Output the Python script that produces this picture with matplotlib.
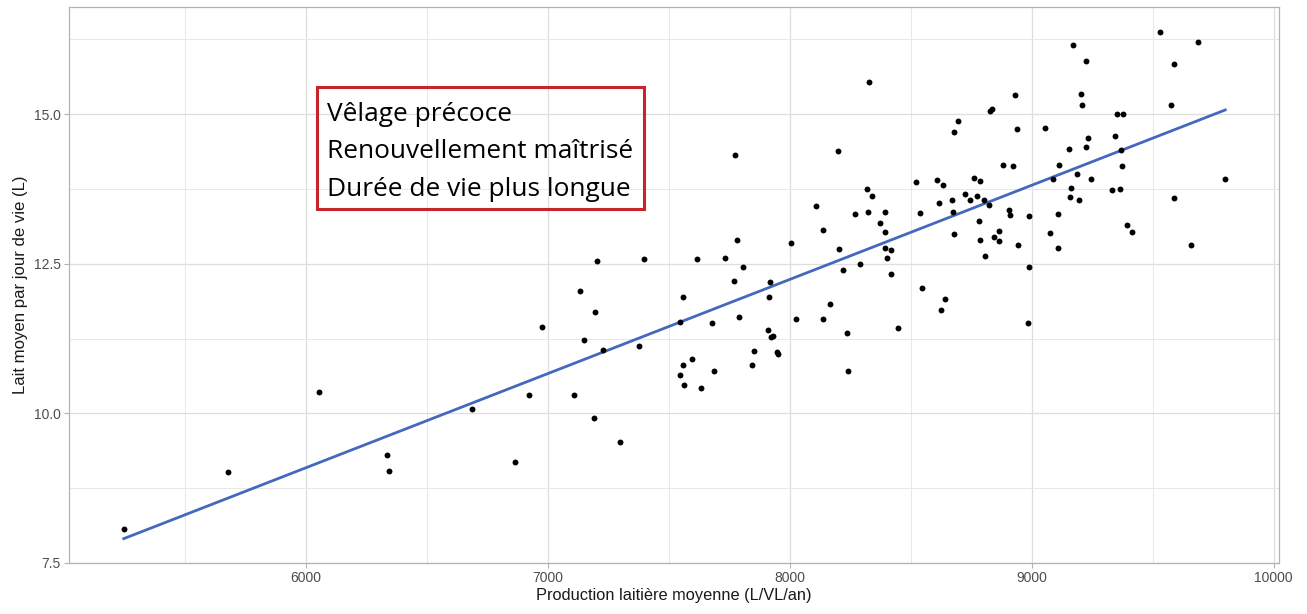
import numpy as np
import matplotlib
matplotlib.use('Agg')
import matplotlib.pyplot as plt
from matplotlib.patches import Rectangle

# production laitiere moyenne (L/VL/an) / lait moyen par jour de vie (L)
prod = [5249, 5678, 6057, 6338, 6343, 6686, 6864, 6925, 6977, 7111,
        7136, 7150, 7197, 7193, 7206, 7230, 7300, 7376, 7399,
        9532, 9688, 9172, 9225, 9588, 8326, 8930, 9202, 9207, 9574,
        8835, 8828, 9351, 9377, 8695, 8681, 8939, 9056, 9346, 9233,
        9225, 9154, 9370, 7775, 8200, 8882, 8921, 9112, 9375, 9188,
        9088, 9244, 9800, 8523, 8607, 8635, 8761, 8786, 8318, 8339,
        9163, 9332, 9365, 8725, 8775, 9160, 9588, 8672, 8747, 8802,
        9195, 8616, 8823, 8111, 8323, 8270, 8393, 8537, 8677, 8905,
        8911, 8989, 9107, 8374, 8781, 9393, 9416, 8140, 8396, 8865,
        8846, 8681, 9075, 8786, 8865, 8944, 9658, 9107, 7784, 8004,
        8205, 8396, 8419, 8402, 8809, 7619, 7733, 8289, 7807, 8989,
        8219, 8419, 7770, 7919, 8546, 7560, 7914, 8640, 8168, 8626,
        7793, 7549, 7681, 8026, 8140, 8984, 8447, 7911, 8237, 7932,
        7925, 7854, 7949, 7954, 7596, 7560, 7844, 7686, 8242, 7549,
        7565, 7635]
lait = [8.07, 9.02, 10.36, 9.30, 9.04, 10.08, 9.19, 10.30, 11.44, 10.30,
        12.04, 11.23, 11.70, 9.92, 12.54, 11.06, 9.53, 11.12, 12.58,
        16.37, 16.21, 16.16, 15.89, 15.84, 15.53, 15.32, 15.34, 15.15, 15.15,
        15.09, 15.05, 15.00, 15.00, 14.89, 14.70, 14.75, 14.77, 14.64, 14.60,
        14.45, 14.42, 14.40, 14.32, 14.38, 14.15, 14.13, 14.15, 14.13, 14.00,
        13.91, 13.92, 13.92, 13.87, 13.90, 13.81, 13.94, 13.89, 13.75, 13.64,
        13.77, 13.73, 13.75, 13.66, 13.64, 13.62, 13.60, 13.56, 13.56, 13.56,
        13.56, 13.51, 13.49, 13.47, 13.37, 13.33, 13.37, 13.35, 13.37, 13.40,
        13.32, 13.30, 13.33, 13.18, 13.22, 13.14, 13.03, 13.07, 13.03, 13.05,
        12.95, 12.99, 13.01, 12.90, 12.88, 12.82, 12.82, 12.77, 12.90, 12.84,
        12.75, 12.77, 12.73, 12.60, 12.63, 12.58, 12.60, 12.50, 12.44, 12.44,
        12.39, 12.33, 12.22, 12.20, 12.10, 11.95, 11.95, 11.91, 11.82, 11.72,
        11.61, 11.53, 11.51, 11.57, 11.57, 11.51, 11.42, 11.40, 11.34, 11.29,
        11.27, 11.04, 11.03, 10.99, 10.91, 10.81, 10.81, 10.70, 10.70, 10.64,
        10.47, 10.43]

x_ticks = [6000, 7000, 8000, 9000, 10000]
y_ticks = [7.5, 10.0, 12.5, 15.0]
box_lines = ['Vêlage précoce', 'Renouvellement maîtrisé', 'Durée de vie plus longue']

W, H = 1307, 614
fig = plt.figure(figsize=(W / 100, H / 100), dpi=100)
ax = fig.add_axes([69.3 / W, 1 - 563 / H, (1279 - 69.3) / W, (563 - 7) / H])

ax.set_xticks([5500, 6500, 7500, 8500, 9500], minor=True)
ax.set_yticks([8.75, 11.25, 13.75, 16.25], minor=True)
ax.grid(True, which='major', color='#DEDEDE', linewidth=0.9, zorder=0)
ax.grid(True, which='minor', color='#E8E8E8', linewidth=0.7, zorder=0)
ax.set_axisbelow(True)

# droite de regression (lm)
a, b = np.polyfit(prod, lait, 1)
xs = np.linspace(min(prod), max(prod), 80)
ax.plot(xs, a * xs + b, color='#4468BD', linewidth=2.0, zorder=2)
ax.scatter(prod, lait, s=18, color='black', linewidths=0, zorder=3)

ax.set_xlim(5024, 10022)
ax.set_ylim(7.5, 16.79)
ax.set_xticks(x_ticks)
ax.set_xticklabels([str(t) for t in x_ticks])
ax.set_yticks(y_ticks)
ax.set_yticklabels([f'{t:.1f}' for t in y_ticks])

for s in ax.spines.values():
    s.set_color('#B3B3B3')
    s.set_linewidth(0.9)
ax.tick_params(which='major', length=3.5, width=0.8, color='#B3B3B3',
               labelsize=10, labelcolor='#4D4D4D', pad=2.5)
ax.tick_params(which='minor', length=0)
for lab in ax.get_xticklabels() + ax.get_yticklabels():
    lab.set_family('Liberation Sans')

ax.set_xlabel('Production laitière moyenne (L/VL/an)', fontsize=11.75,
              family='Liberation Sans', color='#1A1A1A', labelpad=2)
ax.set_ylabel('Lait moyen par jour de vie (L)', fontsize=12.1,
              family='Liberation Sans', color='#1A1A1A', labelpad=4)

# encadre rouge
fig.patches.append(Rectangle((317.3 / W, 1 - 209 / H), (644 - 317.3) / W, (209 - 86.7) / H,
                             transform=fig.transFigure, fill=False,
                             edgecolor='#C8242B', linewidth=2.2, zorder=5))
for i, txt in enumerate(box_lines):
    fig.text(327 / W, 1 - (121 + 37.5 * i) / H, txt, fontsize=18.9,
             family='Open Sans', color='black', ha='left', va='baseline')

fig.savefig('out.png', dpi=100, facecolor='white')
